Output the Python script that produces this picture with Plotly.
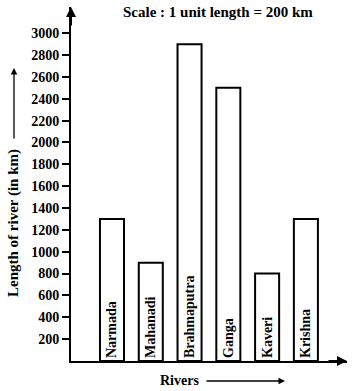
import plotly.graph_objects as go

rivers = ["Narmada", "Mahanadi", "Brahmaputra", "Ganga", "Kaveri", "Krishna"]
lengths_km = [1300, 900, 2900, 2500, 800, 1300]
y_ticks = list(range(200, 3001, 200))
y_tick_labels = [str(v) for v in y_ticks]

FONT = "Liberation Serif"

fig = go.Figure(go.Bar(
    x=rivers, y=lengths_km, width=0.62,
    marker=dict(color="white", line=dict(color="black", width=2)),
    text=rivers, textposition="inside", insidetextanchor="start",
    textangle=-90, constraintext="none",
    insidetextfont=dict(family=FONT, size=14, color="black", weight="bold"),
    cliponaxis=False, hoverinfo="skip",
))

fig.update_layout(
    width=357, height=391,
    margin=dict(l=71, r=10, t=7, b=30),
    plot_bgcolor="white", paper_bgcolor="white",
    showlegend=False,
    font=dict(family=FONT, size=13, color="black"),
    uniformtext=dict(minsize=14, mode="show"),
)
fig.update_xaxes(
    range=[-1.057, 6.06], showline=True, linecolor="black", linewidth=2,
    showticklabels=False, ticks="", showgrid=False, zeroline=False, automargin=False,
)
fig.update_yaxes(
    range=[0, 3240], showline=True, linecolor="black", linewidth=2,
    tickvals=y_ticks, ticktext=y_tick_labels, ticks="outside", ticklen=7,
    tickwidth=1.5, tickcolor="black", showgrid=False, zeroline=False, automargin=False,
    tickfont=dict(family=FONT, size=14, color="black", weight="bold"),
)

ann = []
# axis arrowheads
ann.append(dict(xref="paper", yref="paper", x=0, y=1, ax=0, ay=20, text="",
                showarrow=True, arrowhead=2, arrowsize=1, arrowwidth=2, arrowcolor="black"))
ann.append(dict(xref="paper", yref="paper", x=1, y=0, ax=-20, ay=0, text="",
                showarrow=True, arrowhead=2, arrowsize=1, arrowwidth=2, arrowcolor="black"))
# title
ann.append(dict(xref="paper", yref="paper", x=(218 - 71) / 276, y=(361 - 12) / 354,
                text="<b>Scale : 1 unit length = 200 km</b>", showarrow=False,
                font=dict(family=FONT, size=15), xanchor="center", yanchor="middle"))
# x title + arrow
ann.append(dict(xref="paper", yref="paper", x=(179 - 71) / 276, y=(361 - 380) / 354,
                text="<b>Rivers</b>", showarrow=False, font=dict(family=FONT, size=14),
                xanchor="center", yanchor="middle"))
ann.append(dict(xref="paper", yref="paper", x=(285 - 71) / 276, y=(361 - 381) / 354,
                ax=-80, ay=0, text="", showarrow=True, arrowhead=2, arrowsize=1,
                arrowwidth=1.3, arrowcolor="black"))
# y title + arrow
ann.append(dict(xref="paper", yref="paper", x=(14 - 71) / 276, y=(361 - 223) / 354,
                text="<b>Length of river (in km)</b>", showarrow=False, textangle=-90,
                font=dict(family=FONT, size=15), xanchor="center", yanchor="middle"))
ann.append(dict(xref="paper", yref="paper", x=(14 - 71) / 276, y=(361 - 68) / 354,
                ax=0, ay=72, text="", showarrow=True, arrowhead=2, arrowsize=1,
                arrowwidth=1.3, arrowcolor="black"))
fig.update_layout(annotations=ann)

fig.write_html("out.html", config={"displayModeBar": False},
               post_script="document.body.style.margin='0';")
